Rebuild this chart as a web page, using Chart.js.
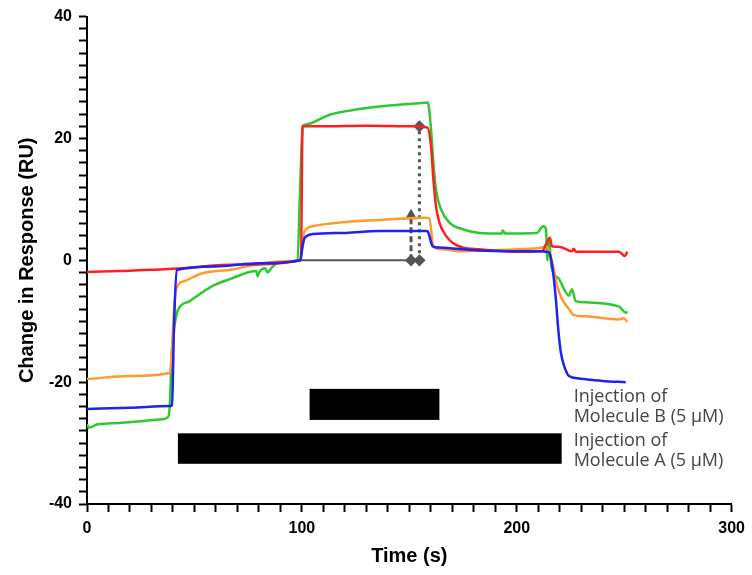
<!DOCTYPE html>
<html>
<head>
<meta charset="utf-8">
<script src="https://cdn.jsdelivr.net/npm/chart.js@4.4.1/dist/chart.umd.min.js"></script>
<style>
  html, body { margin: 0; padding: 0; background: #fff; }
  #wrap { width: 752px; height: 575px; }
</style>
</head>
<body>
<div id="wrap"><canvas id="sprChart" width="752" height="575"></canvas></div>
<script>
// sensorgram traces (time in s, response in RU)
const blueTime = [0, 20, 38.5, 39.6, 40.4, 41.7, 59.5, 80, 99.3, 100.2, 101.3, 105.1, 120.6, 136.1, 157.8, 158.6, 160.9, 163.9, 182.6, 200, 211.8, 213.6, 215.0, 216.5, 218.2, 219.3, 220.5, 222.0, 224.3, 228.9, 240, 250.7];
const blueResp = [-24.4, -24.2, -23.9, -23.8, -12, -1.6, -1.0, -0.5, 0, 2.0, 3.7, 4.3, 4.5, 4.8, 4.8, 4.7, 2.3, 2.1, 1.6, 1.5, 1.5, 1.4, 1.3, -0.9, -6.4, -11.3, -15.1, -17.3, -19.0, -19.4, -19.8, -20.0];

const redTime = [0, 20, 40, 70, 99.6, 100.3, 110, 130, 150, 158.4, 160.1, 161.2, 162.4, 164.0, 167.1, 170.1, 174.8, 182.6, 201, 211.8, 213.6, 215.4, 216.4, 220, 225.7, 226.5, 227.5, 247.6, 250.3, 251.5];
const redResp = [-1.9, -1.7, -1.4, -0.7, 0, 22.0, 22.0, 22.1, 22.0, 21.8, 18.7, 13.3, 8.9, 6.2, 4.0, 2.9, 2.1, 1.8, 1.4, 1.5, 2.6, 3.7, 2.3, 2.2, 1.5, 1.9, 1.4, 1.4, 0.7, 1.4];

const orangeTime = [0, 20, 38.5, 39.5, 40.5, 41.7, 45.5, 53.0, 67.8, 74.3, 89.6, 99.2, 99.8, 101.3, 105.1, 120.6, 136.1, 157.8, 159.3, 161.2, 165.4, 174.8, 182.6, 200, 211.8, 213.6, 216.5, 218.8, 221.1, 224.3, 226.6, 232.1, 247.6, 249.9, 251.4];
const orangeResp = [-19.5, -19.0, -18.5, -15, -8, -4.5, -3.4, -2.2, -1.5, -1.0, -0.2, 0, 2.0, 4.8, 5.6, 6.3, 6.6, 7.0, 6.9, 2.3, 1.8, 1.5, 1.6, 1.8, 2.1, 2.3, -0.4, -4.2, -6.4, -8.0, -9.0, -9.2, -9.7, -9.5, -10.1];

const greenTime = [0, 0.8, 5, 15, 25, 35, 37.5, 38.5, 39.5, 41.7, 42.5, 47.8, 58.5, 66.4, 78.8, 79.4, 80.2, 83, 84, 86, 89.6, 98, 99, 100.4, 101.9, 112.9, 125.3, 140.7, 156.9, 158.6, 160.1, 161.2, 162.4, 164.7, 168.6, 174.8, 182.6, 193, 193.5, 194.5, 209.4, 211.8, 212.5, 213.6, 214.3, 214.8, 216.2, 219.7, 224.3, 225.7, 227.4, 232.1, 247.6, 250.7, 251.5];
const greenResp = [-26.9, -27.5, -26.9, -26.7, -26.4, -26.1, -25.8, -24, -15, -8.9, -8.0, -6.7, -4.2, -3.1, -1.75, -2.6, -1.9, -1.3, -2.0, -1.2, -0.3, 0, 10, 22.0, 22.3, 23.9, 24.75, 25.4, 25.85, 25.9, 21.5, 16.0, 11.6, 8.4, 6.2, 5.1, 4.5, 4.4, 4.9, 4.4, 4.5, 5.5, 5.6, 5.1, 0, 3.5, -1.1, -3.1, -5.8, -4.75, -6.7, -6.9, -7.6, -8.6, -8.4];

// baseline and response-difference markers
const baseTime = [99.5, 154.7];
const baseResp = [0, 0];
const lowArrowTime = [150.8, 150.8];
const lowArrowResp = [0, 7.3];
const highArrowTime = [154.7, 154.7];
const highArrowResp = [0, 22.0];

// injection periods
const injectionNames = [['Injection of', 'Molecule B (5 \u00b5M)'], ['Injection of', 'Molecule A (5 \u00b5M)']];
const injectionStart = [103.6, 42.3];
const injectionEnd = [164.0, 220.9];
const injectionHigh = [-21.1, -28.4];
const injectionLow = [-26.2, -33.4];

const yTicks = [-40, -20, 0, 20, 40];
const xTicks = [0, 100, 200, 300];

function pts(xs, ys) {
    return xs.map((x, i) => ({ x: x, y: ys[i] }));
}

function trace(data, color) {
    return {
        data: data,
        borderColor: color,
        borderWidth: 2.5,
        pointRadius: 0,
        cubicInterpolationMode: 'monotone',
        fill: false
    };
}

// black injection bars plus their captions
const injectionPlugin = {
    id: 'injections',
    afterDatasetsDraw(chart) {
        const ctx = chart.ctx;
        const xs = chart.scales.x, ys = chart.scales.y;
        ctx.save();
        for (let i = 0; i < injectionStart.length; i++) {
            const x1 = xs.getPixelForValue(injectionStart[i]);
            const x2 = xs.getPixelForValue(injectionEnd[i]);
            const y1 = ys.getPixelForValue(injectionHigh[i]);
            const y2 = ys.getPixelForValue(injectionLow[i]);
            ctx.fillStyle = '#000';
            ctx.fillRect(x1, y1, x2 - x1, y2 - y1);

            ctx.fillStyle = '#444';
            ctx.font = '18px "Open Sans", Roboto, sans-serif';
            ctx.textBaseline = 'middle';
            ctx.textAlign = 'left';
            const tx = xs.getPixelForValue(injectionEnd[1]) + 12;
            const mid = (y1 + y2) / 2;
            ctx.fillText(injectionNames[i][0], tx, mid - 8);
            ctx.fillText(injectionNames[i][1], tx, mid + 12);
        }
        ctx.restore();
    }
};

const tickFont = { family: 'Arial, "Liberation Sans", sans-serif', size: 16, weight: 'bold' };
const titleFont = { family: 'Arial, "Liberation Sans", sans-serif', size: 20, weight: 'bold' };

const config = {
    type: 'line',
    data: {
        datasets: [
            trace(pts(blueTime, blueResp), '#1f22f0'),
            trace(pts(redTime, redResp), '#ff1f1f'),
            trace(pts(orangeTime, orangeResp), '#ff9a30'),
            trace(pts(greenTime, greenResp), '#2fc82f'),
            {
                data: pts(baseTime, baseResp),
                borderColor: '#555',
                borderWidth: 2,
                pointRadius: 0
            },
            {
                data: pts(lowArrowTime, lowArrowResp),
                borderColor: '#555',
                borderWidth: 3,
                borderDash: [6, 3],
                pointStyle: ['rectRot', 'triangle'],
                pointRadius: 4,
                pointBackgroundColor: '#555',
                pointBorderColor: '#555'
            },
            {
                data: pts(highArrowTime, highArrowResp),
                borderColor: '#555',
                borderWidth: 3,
                borderDash: [3, 4],
                pointStyle: 'rectRot',
                pointRadius: 4,
                pointBackgroundColor: '#555',
                pointBorderColor: '#555'
            }
        ]
    },
    options: {
        responsive: false,
        animation: false,
        layout: { padding: { top: 16, right: 19, bottom: 0, left: 0 } },
        plugins: {
            legend: { display: false },
            tooltip: { enabled: false }
        },
        scales: {
            x: {
                type: 'linear',
                min: 0,
                max: 300,
                afterFit: (s) => { s.height = 71; },
                border: { color: '#000', width: 2 },
                grid: { drawOnChartArea: false, drawTicks: true, tickLength: 8, tickColor: '#000', tickWidth: 2 },
                ticks: {
                    stepSize: 10,
                    autoSkip: false,
                    maxRotation: 0,
                    padding: 7,
                    color: '#000',
                    font: tickFont,
                    callback: (v) => xTicks.includes(v) ? String(v) : ''
                },
                title: {
                    display: true,
                    text: 'Time (s)',
                    color: '#000',
                    font: titleFont,
                    padding: { top: 0, bottom: 7 }
                }
            },
            y: {
                min: -40,
                max: 40,
                afterFit: (s) => { s.width = 87; },
                border: { color: '#000', width: 2 },
                grid: { drawOnChartArea: false, drawTicks: true, tickLength: 8, tickColor: '#000', tickWidth: 2 },
                ticks: {
                    stepSize: 2,
                    autoSkip: false,
                    padding: 7,
                    color: '#000',
                    font: tickFont,
                    callback: (v) => yTicks.includes(v) ? String(v) : ''
                },
                title: {
                    display: true,
                    text: 'Change in Response (RU)',
                    color: '#000',
                    font: titleFont,
                    padding: { top: 15, bottom: 0 }
                }
            }
        }
    },
    plugins: [injectionPlugin]
};

new Chart(document.getElementById('sprChart').getContext('2d'), config);
</script>
</body>
</html>
